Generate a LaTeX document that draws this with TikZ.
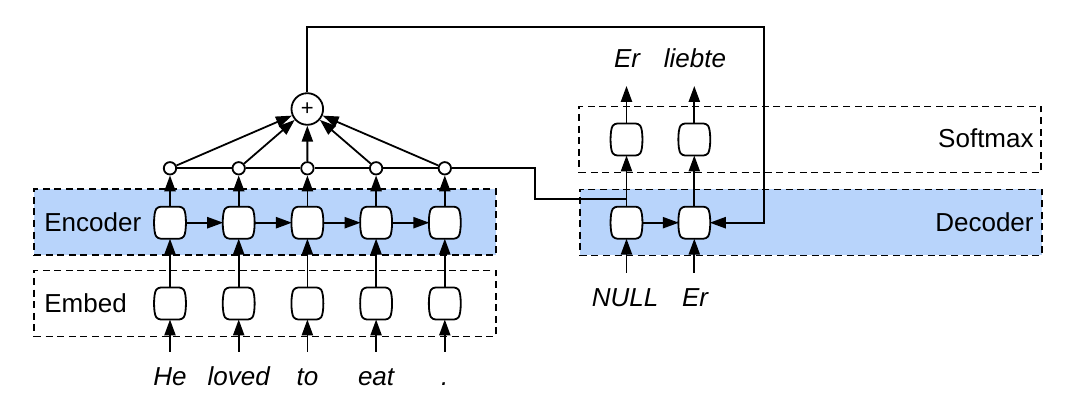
\documentclass[tikz,border=0pt]{standalone}
\usepackage{fontspec}
\setmainfont{Liberation Sans}
\usetikzlibrary{arrows.meta}
\definecolor{encblue}{RGB}{184,212,251}
\begin{document}
\begin{tikzpicture}[x=0.5pt,y=-0.5pt,
  every node/.style={font=\fontsize{13}{15}\selectfont},
  cell/.style={rectangle, minimum width=12pt, minimum height=16pt, inner sep=0pt,
    outer xsep=1.75pt, outer ysep=0pt,
    append after command={\pgfextra{\draw[line width=0.9pt, fill=white, rounded corners=1.4pt]
      (\tikzlastnode.north) -- ([xshift=-1.75pt]\tikzlastnode.north east)
      .. controls ([xshift=0.6pt,yshift=-3pt]\tikzlastnode.north east)
      and ([xshift=0.6pt,yshift=3pt]\tikzlastnode.south east)
      .. ([xshift=-1.75pt]\tikzlastnode.south east)
      -- ([xshift=1.75pt]\tikzlastnode.south west)
      .. controls ([xshift=-0.6pt,yshift=3pt]\tikzlastnode.south west)
      and ([xshift=-0.6pt,yshift=-3pt]\tikzlastnode.north west)
      .. ([xshift=1.75pt]\tikzlastnode.north west) -- cycle;}}},
  dot/.style={circle, draw, fill=white, line width=0.9pt, minimum size=6.2pt, inner sep=0pt},
  layer/.style={draw, dash pattern=on 3.5pt off 2.3pt, line width=0.8pt,
    minimum width=231pt, minimum height=33pt, inner sep=0pt},
  lab/.style={inner sep=0pt},
  word/.style={font=\fontsize{13}{15}\selectfont\itshape, anchor=base, inner sep=0pt},
  ln/.style={line width=0.9pt},
  arr/.style={line width=0.9pt, -{Triangle[length=8pt,width=5.6pt]}}]
\useasboundingbox (0,0) rectangle (1088,406);

% layer boxes
\node[layer, fill=encblue] (encbox) at (265,222.2) {};
\node[layer] (embbox) at (265,303.4) {};
\node[layer] (smbox) at (810.2,139.4) {};
\node[layer, fill=encblue] (decbox) at (810.8,222.5) {};

% layer labels
\node[lab, anchor=base west] (enclab) at (44,231.7) {Encoder};
\node[lab, anchor=base west] (emblab) at (44,312.7) {Embed};
\node[lab, anchor=base east] (smlab) at (1034,147.3) {Softmax};
\node[lab, anchor=base east] (declab) at (1034,231.7) {Decoder};

% encoder side
\foreach \i/\x in {1/170,2/238.7,3/307.4,4/376.1,5/444.8}{
  \node[cell] (e\i) at (\x,222.7) {};
  \node[cell] (m\i) at (\x,303.5) {};
  \node[dot] (c\i) at (\x,168.3) {};
  \coordinate (in\i) at (\x,351.7);
}
\node[word] (w1) at (170,386) {He};
\node[word] (w2) at (238.7,386) {loved};
\node[word] (w3) at (307.4,386) {to};
\node[word] (w4) at (376.1,386) {eat};
\node[word] (w5) at (444.8,386) {.};

\node[circle, draw, fill=white, line width=0.9pt, minimum size=15.8pt, inner sep=0pt,
  font=\fontsize{11}{11}\selectfont] (plus) at (307.3,109) {+};

\foreach \i in {1,...,5}{
  \draw[arr] (in\i) -- (m\i);
  \draw[arr] (m\i) -- (e\i);
  \draw[arr] (e\i) -- (c\i);
  \draw[arr] (c\i) -- (plus);
}
\foreach \i/\j in {1/2,2/3,3/4,4/5}{
  \draw[arr] (e\i) -- (e\j);
}
\draw[ln] (c1) -- (c2) -- (c3) -- (c4) -- (c5);

% decoder side
\node[cell] (d1) at (626.5,222.7) {};
\node[cell] (d2) at (694.3,222.7) {};
\node[cell] (s1) at (626.5,139.5) {};
\node[cell] (s2) at (694.3,139.5) {};
\coordinate (din1) at (626.5,272.7);
\coordinate (din2) at (694.3,272.7);
\coordinate (dout1) at (626.5,86);
\coordinate (dout2) at (694.3,86);
\node[word] (nul) at (625,306.7) {NULL};
\node[word] (er1) at (695,306.7) {Er};
\node[word] (er2) at (627,67.3) {Er};
\node[word] (lb) at (695,67.3) {liebte};

\draw[arr] (din1) -- (d1);
\draw[arr] (din2) -- (d2);
\draw[arr] (d1) -- (d2);
\draw[arr] (d1) -- (s1);
\draw[arr] (d2) -- (s2);
\draw[arr] (s1) -- (dout1);
\draw[arr] (s2) -- (dout2);

% attention context to decoder
\coordinate (att1) at (535,168.3);
\coordinate (att2) at (626.5,199.3);
\draw[ln] (c5) -- (att1) |- (att2);

% summed context fed back
\coordinate (tl) at (307.3,27.3);
\coordinate (tr) at (764.3,27.3);
\draw[arr] (plus) -- (tl) -- (tr) |- (d2.east);
\end{tikzpicture}
\end{document}
